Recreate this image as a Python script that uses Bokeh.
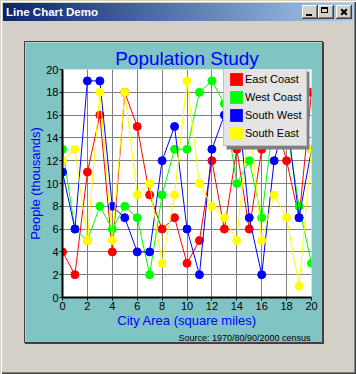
from bokeh.plotting import figure
from bokeh.models import Legend, LegendItem, Title, FixedTicker, Div, Spacer, BoxAnnotation
from bokeh.layouts import column, row
from bokeh.embed import file_html
from bokeh.resources import INLINE

# ---- data ----
x_values = list(range(21))
east_coast = [4, 2, 11, 16, 4, 18, 15, 9, 6, 7, 3, 5, 12, 6, 13, 6, 13, 16, 12, 7, 18]
west_coast = [13, 6, 5, 8, 6, 8, 7, 2, 9, 13, 13, 18, 19, 17, 10, 12, 7, 16, 15, 8, 3]
south_west = [11, 6, 19, 19, 8, 7, 4, 4, 12, 15, 6, 2, 13, 16, 18, 7, 2, 12, 16, 7, 13]
south_east = [12, 13, 5, 18, 5, 18, 9, 10, 3, 9, 19, 10, 8, 7, 5, 16, 5, 9, 7, 1, 13]
series_names = ["East Coast", "West Coast", "South West", "South East"]
series_colors = ["#ff0000", "#00ff00", "#0000ff", "#ffff00"]
tick_values = [0, 2, 4, 6, 8, 10, 12, 14, 16, 18, 20]
chart_title = "Population Study"
x_label = "City Area (square miles)"
y_label = "People (thousands)"
source_text = "Source: 1970/80/90/2000 census"
window_title = "Line Chart Demo"

FONT = "Liberation Sans"
TEAL = "#80c4c4"
GRAY = "#d4d0c8"

p = figure(width=297, height=300, x_range=(0, 20), y_range=(0, 20),
           output_backend="svg", toolbar_location=None,
           min_border_left=37, min_border_right=11, min_border_top=27, min_border_bottom=42,
           background_fill_color="#ffffff", border_fill_color=TEAL,
           outline_line_color=None, title=chart_title)
p.title.align = "center"
p.title.text_font = FONT
p.title.text_font_size = "19px"
p.title.text_font_style = "normal"
p.title.text_color = "#0000ff"
p.title.standoff = 2

for ax in (p.xaxis[0], p.yaxis[0]):
    ax.ticker = FixedTicker(ticks=tick_values)
    ax.axis_line_width = 2
    ax.axis_line_color = "black"
    ax.major_tick_in = 0
    ax.major_tick_out = 3
    ax.major_tick_line_color = "black"
    ax.minor_tick_line_color = None
    ax.major_label_text_font = FONT
    ax.major_label_text_font_size = "11px"
    ax.major_label_text_color = "black"
    ax.major_label_standoff = 1
    ax.axis_label_text_font = FONT
    ax.axis_label_text_font_size = "13px"
    ax.axis_label_text_font_style = "normal"
    ax.axis_label_text_color = "#0000ff"
    ax.axis_label_standoff = 0
p.xaxis.axis_label = x_label
p.yaxis.axis_label = y_label
p.xaxis.axis_label_text_line_height = 0.5
p.xgrid.grid_line_color = "#808080"
p.ygrid.grid_line_color = "#808080"

all_series = [east_coast, west_coast, south_west, south_east]
items = []
for name, vals, c in zip(series_names, all_series, series_colors):
    p.line(x_values, vals, line_color=c, line_width=1)
    p.scatter(x_values, vals, marker="circle", size=8, fill_color=c, line_color=c, line_width=1)
    # hidden area renderer used only for the legend's square swatch
    sw = p.quad(left=x_values, right=x_values, bottom=vals, top=vals,
                fill_color=c, line_color=None, visible=False)
    items.append(LegendItem(label=name, renderers=[sw]))

# legend drop shadow (screen units, relative to the plot frame)
shadow = BoxAnnotation(left=164, right=247, bottom=148, top=226,
                       left_units="screen", right_units="screen",
                       bottom_units="screen", top_units="screen",
                       fill_color="#808080", fill_alpha=1.0, line_color=None)
p.add_layout(shadow)

legend = Legend(items=items, location=(161, 151), orientation="vertical",
                background_fill_color="#e4e4e4", background_fill_alpha=1.0,
                border_line_color="#a0a0a0", padding=4, margin=0, spacing=2,
                glyph_width=16, glyph_height=16, label_standoff=1, label_height=16,
                label_text_font=FONT, label_text_font_size="11px", label_text_color="black")
p.add_layout(legend)

src = Title(text=source_text, align="right", text_font=FONT, text_font_size="9px",
            text_font_style="normal", text_color="black", standoff=0, offset=1,
            text_line_height=0.5)
p.add_layout(src, "below")

p.styles = {"box-shadow": "0 0 0 1px #404040, 1px 1px 0 1px #404040"}

def button(left, inner):
    return ('<div style="position:absolute;left:%dpx;top:5px;width:16px;height:14px;background:%s;'
            'box-shadow:inset -1px -1px #404040, inset 1px 1px #ffffff, inset -2px -2px #808080;">%s</div>'
            % (left, GRAY, inner))

min_glyph = '<div style="position:absolute;left:4px;top:9px;width:6px;height:2px;background:#000;"></div>'
max_glyph = ('<div style="position:absolute;left:3px;top:2px;width:7px;height:6px;'
             'border:1px solid #000;border-top-width:2px;"></div>')
close_glyph = ('<div style="position:absolute;left:4px;top:6px;width:8px;height:2px;background:#000;transform:rotate(45deg);"></div>'
               '<div style="position:absolute;left:4px;top:6px;width:8px;height:2px;background:#000;transform:rotate(-45deg);"></div>')

div_html = (
    '<div style="position:relative;width:356px;height:42px;overflow:hidden;">'
    '<div style="position:absolute;left:3px;top:3px;width:350px;height:18px;'
    'background:linear-gradient(to right,#0a246a,#a6caf0);"></div>'
    '<div style="position:absolute;left:6px;top:3px;height:18px;line-height:18px;color:#ffffff;'
    'font-family:\'Liberation Sans\';font-weight:bold;font-size:11.5px;white-space:nowrap;">'
    + window_title + '</div>'
    + button(302, min_glyph) + button(318, max_glyph) + button(336, close_glyph)
    + '</div>')

header = Div(text=div_html, width=356, height=42, margin=0)
body = row(Spacer(width=25, height=300, margin=0), p, Spacer(width=34, height=300, margin=0),
           margin=0)
layout = column(header, body, Spacer(width=356, height=32, margin=0), margin=0,
                width=356, height=374)
layout.styles = {"background-color": GRAY,
                 "box-shadow": "inset 1px 1px " + GRAY + ", inset 2px 2px #ffffff, "
                               "inset -1px -1px #404040, inset -2px -2px #808080"}

open("out.html", "w").write(file_html(layout, INLINE))
